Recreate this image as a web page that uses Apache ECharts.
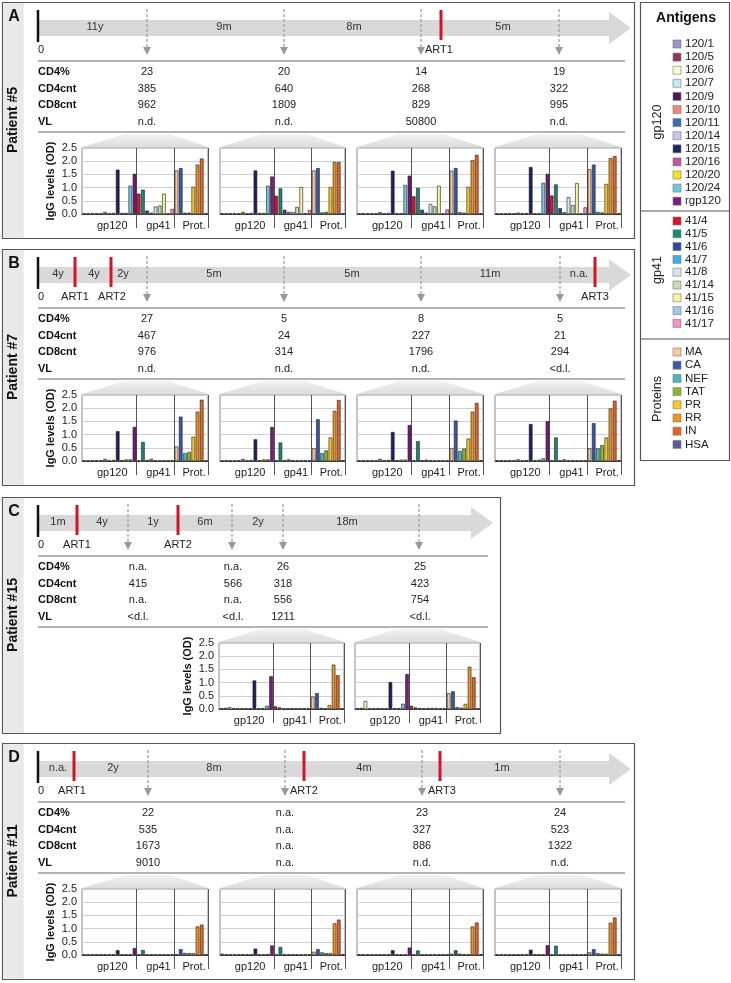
<!DOCTYPE html>
<html><head><meta charset="utf-8">
<script src="https://cdn.jsdelivr.net/npm/echarts/dist/echarts.min.js"></script>
<style>html,body{margin:0;padding:0;background:#fff}#c{width:731px;height:983px}</style>
</head><body><div id="c"></div>
<script>
const FONT = "'Liberation Sans', Arial, sans-serif";

// ---------- shared data ----------
const antigenNames = ['120/1','120/5','120/6','120/7','120/9','120/10','120/11','120/14','120/15','120/16','120/20','120/24','rgp120',
  '41/4','41/5','41/6','41/7','41/8','41/14','41/15','41/16','41/17',
  'MA','CA','NEF','TAT','PR','RR','IN','HSA'];
const antigenColors = ['#9a96c8','#8e3560','#fdf8c8','#c5ecf2','#4a1858','#f08878','#3a6cb8','#c8c8e4','#1e2060','#c055a5','#f2e41e','#70c8d8','#7c1a82',
  '#e0102c','#1a8878','#2a4a9c','#40aee0','#d2e8ee','#c8dcb4','#f6f2a0','#a0c8e8','#f095c5',
  '#f8c8a0','#3858a8','#48b8c0','#8ab828','#f8c820','#f0941e','#e8641c','#5c5a9a'];
const groupSizes = [13, 9, 8];
const groupLabels = ['gp120','gp41','Prot.'];
const legendGroups = ['gp120','gp41','Proteins'];
const rowLabels = ['CD4%','CD4cnt','CD8cnt','VL'];
const yMin = 0, yMax = 2.5, yStep = 0.5;
const yAxisTitle = 'IgG levels (OD)';
const legendTitle = 'Antigens';

// ---------- Panel A : Patient #5 ----------
const A_intervals = ['11y','9m','8m','5m'];
const A_art = ['ART1'];
const A_cd4pct = ['23','20','14','19'];
const A_cd4cnt = ['385','640','268','322'];
const A_cd8cnt = ['962','1809','829','995'];
const A_vl = ['n.d.','n.d.','50800','n.d.'];
const A_igg1 = [0.02,0.02,0.02,0.02,0.02,0.08,0.02,0.04,1.68,0.04,0.04,1.07,1.52, 0.77,0.92,0.13,0.05,0.28,0.32,0.77,0.02,0.19, 1.65,1.74,0.05,0.05,1.03,1.87,2.10,0.03];
const A_igg2 = [0.02,0.02,0.02,0.02,0.02,0.08,0.02,0.04,1.65,0.04,0.04,1.07,1.42, 0.69,0.97,0.16,0.08,0.08,0.27,1.02,0.02,0.15, 1.65,1.74,0.06,0.08,1.02,1.97,1.97,0.03];
const A_igg3 = [0.02,0.02,0.02,0.02,0.02,0.07,0.02,0.04,1.64,0.02,0.02,1.10,1.45, 0.67,0.99,0.16,0.05,0.38,0.29,1.07,0.02,0.17, 1.64,1.74,0.07,0.05,1.03,2.04,2.24,0.03];
const A_igg4 = [0.02,0.02,0.02,0.02,0.02,0.05,0.02,0.03,1.78,0.02,0.02,1.18,1.52, 0.70,1.12,0.22,0.07,0.64,0.34,1.17,0.02,0.25, 1.69,1.87,0.08,0.06,1.14,2.12,2.19,0.03];

// ---------- Panel B : Patient #7 ----------
const B_intervals = ['4y','4y','2y','5m','5m','11m','n.a.'];
const B_art = ['ART1','ART2','ART3'];
const B_cd4pct = ['27','5','8','5'];
const B_cd4cnt = ['467','24','227','21'];
const B_cd8cnt = ['976','314','1796','294'];
const B_vl = ['n.d.','n.d.','n.d.','<d.l.'];
const B_igg1 = [0.02,0.02,0.02,0.02,0.02,0.08,0.02,0.04,1.13,0.03,0.06,0.06,1.29, 0.02,0.72,0.03,0.08,0.02,0.02,0.02,0.02,0.02, 0.55,1.68,0.30,0.34,0.92,1.87,2.32,0.03];
const B_igg2 = [0.02,0.02,0.02,0.02,0.02,0.08,0.02,0.04,0.82,0.03,0.06,0.06,1.29, 0.02,0.70,0.03,0.06,0.02,0.02,0.02,0.02,0.02, 0.48,1.58,0.30,0.40,0.89,1.90,2.31,0.03];
const B_igg3 = [0.02,0.02,0.02,0.02,0.02,0.08,0.02,0.04,1.10,0.03,0.05,0.05,1.36, 0.02,0.75,0.03,0.05,0.02,0.02,0.02,0.02,0.02, 0.49,1.53,0.38,0.47,0.85,1.87,2.20,0.03];
const B_igg4 = [0.02,0.02,0.02,0.02,0.02,0.06,0.02,0.03,1.40,0.02,0.05,0.10,1.51, 0.02,0.89,0.03,0.06,0.02,0.02,0.02,0.02,0.02, 0.48,1.43,0.48,0.60,0.89,1.99,2.28,0.03];

// ---------- Panel C : Patient #15 ----------
const C_intervals = ['1m','4y','1y','6m','2y','18m'];
const C_art = ['ART1','ART2'];
const C_cd4pct = ['n.a.','n.a.','26','25'];
const C_cd4cnt = ['415','566','318','423'];
const C_cd8cnt = ['n.a.','n.a.','556','754'];
const C_vl = ['<d.l.','<d.l.','1211','<d.l.'];
const C_igg1 = [0.03,0.04,0.07,0.03,0.02,0.03,0.02,0.03,1.08,0.03,0.03,0.12,1.24, 0.10,0.06,0.02,0.02,0.03,0.02,0.03,0.02,0.02, 0.47,0.60,0.04,0.03,0.15,1.68,1.28,0.03];
const C_igg2 = [0.03,0.04,0.30,0.02,0.02,0.03,0.02,0.03,1.02,0.03,0.03,0.20,1.32, 0.12,0.06,0.03,0.02,0.04,0.04,0.04,0.02,0.02, 0.60,0.67,0.07,0.05,0.19,1.60,1.20,0.03];

// ---------- Panel D : Patient #11 ----------
const D_intervals = ['n.a.','2y','8m','4m','1m'];
const D_art = ['ART1','ART2','ART3'];
const D_cd4pct = ['22','n.a.','23','24'];
const D_cd4cnt = ['535','n.a.','327','523'];
const D_cd8cnt = ['1673','n.a.','886','1322'];
const D_vl = ['9010','n.a.','n.d.','n.d.'];
const D_igg1 = [0.02,0.02,0.02,0.02,0.02,0.02,0.02,0.02,0.18,0.02,0.02,0.02,0.26, 0.02,0.19,0.02,0.02,0.02,0.02,0.02,0.02,0.02, 0.03,0.22,0.08,0.07,0.07,1.08,1.15,0.03];
const D_igg2 = [0.05,0.02,0.02,0.02,0.02,0.02,0.02,0.02,0.24,0.02,0.02,0.04,0.36, 0.02,0.30,0.02,0.02,0.02,0.02,0.02,0.02,0.02, 0.12,0.22,0.10,0.07,0.07,1.20,1.34,0.03];
const D_igg3 = [0.02,0.02,0.02,0.02,0.02,0.02,0.02,0.02,0.18,0.02,0.02,0.02,0.28, 0.02,0.17,0.02,0.02,0.02,0.02,0.02,0.02,0.02, 0.05,0.18,0.05,0.03,0.03,1.08,1.23,0.03];
const D_igg4 = [0.02,0.02,0.02,0.02,0.02,0.02,0.02,0.02,0.20,0.02,0.02,0.02,0.37, 0.02,0.35,0.02,0.02,0.02,0.02,0.02,0.02,0.02, 0.10,0.22,0.07,0.05,0.05,1.22,1.42,0.03];

// ---------- layout (positions only) ----------
const panels = [
  { letter:'A', patient:'Patient #5', intervals:A_intervals, arts:A_art,
    table:[A_cd4pct,A_cd4cnt,A_cd8cnt,A_vl], igg:[A_igg1,A_igg2,A_igg3,A_igg4],
    L:{ dy:0, boxW:632, tip:631, lineEnd:625, arrows:[147,284,421,559], cols:[147,284,421,559],
        artX:[441], artLbl:[[425,'left']], intX:[95,224,354,503],
        charts:[[82,208],[220,345],[357,483],[495,621]], chartTP:[147,284,421,559] } },
  { letter:'B', patient:'Patient #7', intervals:B_intervals, arts:B_art,
    table:[B_cd4pct,B_cd4cnt,B_cd8cnt,B_vl], igg:[B_igg1,B_igg2,B_igg3,B_igg4],
    L:{ dy:247, boxW:632, tip:631, lineEnd:625, arrows:[147,284,421,560], cols:[147,284,421,560],
        artX:[75,111,595], artLbl:[[75,'center'],[112,'center'],[595,'center']], intX:[58,94,123,214,352,490,579],
        charts:[[82,208],[220,345],[357,483],[495,621]], chartTP:[147,284,421,560] } },
  { letter:'C', patient:'Patient #15', intervals:C_intervals, arts:C_art,
    table:[C_cd4pct,C_cd4cnt,C_cd8cnt,C_vl], igg:[C_igg1,C_igg2],
    L:{ dy:495, boxW:498, tip:493, lineEnd:488, arrows:[128,232,283,419], cols:[138,233,283,420],
        artX:[77,178], artLbl:[[77,'center'],[178,'center']], intX:[58,102,153,205,258,347],
        charts:[[219,344],[355,480]], chartTP:[283,419] } },
  { letter:'D', patient:'Patient #11', intervals:D_intervals, arts:D_art,
    table:[D_cd4pct,D_cd4cnt,D_cd8cnt,D_vl], igg:[D_igg1,D_igg2,D_igg3,D_igg4],
    L:{ dy:741, boxW:632, tip:631, lineEnd:625, arrows:[148,285,422,560], cols:[148,285,422,560],
        artX:[74,304,440], artLbl:[[72,'center'],[290,'left'],[428,'left']], intX:[58,113,214,364,502],
        charts:[[82,208],[220,345],[357,483],[495,621]], chartTP:[148,285,422,560] } }
];

function txt(x, y, s, opt) {
  opt = opt || {};
  const fs = opt.size || 11;
  return { type:'text', x:x, y:y, rotation: opt.rot || 0, z: 20, silent:true,
    style:{ text:s, fill: opt.color || '#222', font: (opt.bold ? 'bold ' : '') + fs + 'px ' + FONT,
      textAlign: opt.align || 'center', align: opt.align || 'center',
      textVerticalAlign:'middle', verticalAlign:'middle' } };
}
function line(x1,y1,x2,y2,color,w,dash){
  return { type:'line', z:15, silent:true, shape:{x1:x1,y1:y1,x2:x2,y2:y2},
    style:{ stroke:color, lineWidth:w, lineDash: dash || null } };
}

const graphics = [];
const grids = [], xAxes = [], yAxes = [], series = [];

// group boundary & label indices derived from groupSizes
const bounds = []; const centers = [];
{ let s = 0; groupSizes.forEach((n,i)=>{ centers.push(s + Math.floor((n-1)/2)); s += n; if (i < groupSizes.length-1) bounds.push(s); }); }

panels.forEach(p => {
  const L = p.L, dy = L.dy;
  const start = 38;
  graphics.push({ type:'rect', z:1, silent:true, shape:{x:2.5,y:2.5+dy,width:L.boxW,height:236}, style:{fill:'none',stroke:'#555',lineWidth:1.2} });
  graphics.push({ type:'rect', z:2, silent:true, shape:{x:3.2,y:3.2+dy,width:20.5,height:234.6}, style:{fill:'#e9e9e9'} });
  graphics.push(txt(14, 17+dy, p.letter, {bold:true, size:16, color:'#111'}));
  graphics.push(txt(13, 120+dy, p.patient, {bold:true, size:14, color:'#111', rot:Math.PI/2}));
  graphics.push({ type:'rect', z:5, silent:true, shape:{x:start,y:20+dy,width:L.tip-start-20,height:16}, style:{fill:'#d9d9d9'} });
  graphics.push({ type:'polygon', z:5, silent:true, shape:{points:[[L.tip-22,12+dy],[L.tip,28+dy],[L.tip-22,44+dy]]}, style:{fill:'#d9d9d9'} });
  graphics.push(line(start, 10+dy, start, 42+dy, '#111', 2.5));
  graphics.push(txt(start, 50+dy, '0', {align:'left'}));
  p.intervals.forEach((s,i)=> graphics.push(txt(L.intX[i], 27+dy, s, {color:'#333'})));
  L.arrows.forEach(x => {
    graphics.push(line(x, 9+dy, x, 47+dy, '#999', 1.2, [3,2]));
    graphics.push({ type:'polygon', z:15, silent:true, shape:{points:[[x-4,47+dy],[x+4,47+dy],[x,55+dy]]}, style:{fill:'#999'} });
  });
  L.artX.forEach(x => graphics.push(line(x, 10+dy, x, 40+dy, '#d2142a', 3)));
  p.arts.forEach((s,i)=> graphics.push(txt(L.artLbl[i][0], 50+dy, s, {align:L.artLbl[i][1]})));
  graphics.push(line(start, 61+dy, L.lineEnd, 61+dy, '#9a9a9a', 1.5));
  const rowY = [72, 88.5, 105, 121.5];
  rowLabels.forEach((r,ri)=>{
    graphics.push(txt(start, rowY[ri]+dy, r, {bold:true, align:'left', color:'#111'}));
    p.table[ri].forEach((v,ci)=> graphics.push(txt(L.cols[ci], rowY[ri]+dy, v)));
  });
  graphics.push(line(start, 132+dy, L.lineEnd, 132+dy, '#9a9a9a', 1.5));
  L.charts.forEach((c,k)=>{
    const tp = L.chartTP[k];
    graphics.push({ type:'polygon', z:3, silent:true,
      shape:{points:[[c[0],147+dy],[tp-22,134+dy],[tp+22,134+dy],[c[1],147+dy]]},
      style:{ fill: new echarts.graphic.LinearGradient(0,0,0,1,[{offset:0,color:'#f3f3f3'},{offset:1,color:'#dcdcdc'}]) } });
    const gi = grids.length;
    const first = (k === 0);
    grids.push({ left:c[0], top:148+dy, width:c[1]-c[0], height:66, show:true, borderColor:'#888', borderWidth:1, backgroundColor:'transparent' });
    xAxes.push({ type:'category', gridIndex:gi, data:antigenNames,
      axisLine:{ show:true, lineStyle:{color:'#444', width:1} },
      axisTick:{ show:true, length:14, interval:(i)=> bounds.indexOf(i) >= 0, lineStyle:{color:'#555', width:1} },
      splitLine:{ show:true, interval:(i)=> bounds.indexOf(i) >= 0, lineStyle:{color:'#555', width:1} },
      axisLabel:{ show:true, interval:(i)=> centers.indexOf(i) >= 0, margin:6, fontSize:11, fontFamily:FONT, color:'#222',
        formatter:(v,i)=>{ const g = centers.indexOf(i); return g === 2 ? '{b|' + groupLabels[g] + '}' : '{a|' + groupLabels[g] + '}'; },
        rich:{ a:{ padding:[0,0,0,6], fontSize:11, fontFamily:FONT, color:'#222' }, b:{ padding:[0,0,0,10], fontSize:11, fontFamily:FONT, color:'#222' } } } });
    yAxes.push({ type:'value', gridIndex:gi, min:yMin, max:yMax, interval:yStep,
      name: first ? yAxisTitle : '', nameLocation:'middle', nameGap:26, nameRotate:90,
      nameTextStyle:{ fontSize:11, fontWeight:'bold', fontFamily:FONT, color:'#111' },
      axisLine:{show:false}, axisTick:{show:false},
      axisLabel:{ show:first, margin:5, fontSize:11, fontFamily:FONT, color:'#222', formatter:(v)=>v.toFixed(1) },
      splitLine:{ show:true, lineStyle:{ color:'#cfcfcf', width:1 } } });
    series.push({ type:'bar', xAxisIndex:gi, yAxisIndex:gi, barCategoryGap:'14%', silent:true, z:3,
      data: p.igg[k].map((v,i)=>({ value:v, itemStyle:{ color:antigenColors[i] } })),
      itemStyle:{ borderColor:'#1a1a1a', borderWidth:0.6 } });
  });
});

// ---------- legend ----------
{
  const lx = 640.5, ly = 2.5;
  graphics.push({ type:'rect', z:1, silent:true, shape:{x:lx,y:ly,width:89,height:458}, style:{fill:'none',stroke:'#555',lineWidth:1.2} });
  graphics.push(txt(686, 18, legendTitle, {bold:true, size:14, color:'#111'}));
  const groupStart = [44, 221, 352];
  const groupStep = [13.1, 12.8, 13.2];
  const groupMid = [122, 270, 399];
  const seps = [211, 339];
  let idx = 0;
  groupSizes.forEach((n,g)=>{
    for (let j=0;j<n;j++){
      const y = groupStart[g] + j*groupStep[g];
      graphics.push({ type:'rect', z:10, silent:true, shape:{x:673,y:y-4,width:8,height:8}, style:{fill:antigenColors[idx], stroke:'#777', lineWidth:0.6} });
      graphics.push(txt(685, y, antigenNames[idx], {align:'left', size:11.5, color:'#222'}));
      idx++;
    }
    graphics.push(txt(658, groupMid[g], legendGroups[g], {size:12.5, color:'#222', rot:Math.PI/2}));
  });
  seps.forEach(y => graphics.push(line(lx, y, lx+89, y, '#555', 1)));
}

const chart = echarts.init(document.getElementById('c'), null, {renderer:'canvas'});
chart.setOption({
  animation:false,
  backgroundColor:'#fff',
  textStyle:{ fontFamily:FONT },
  grid:grids, xAxis:xAxes, yAxis:yAxes, series:series,
  graphic:{ elements:graphics }
});
</script></body></html>
